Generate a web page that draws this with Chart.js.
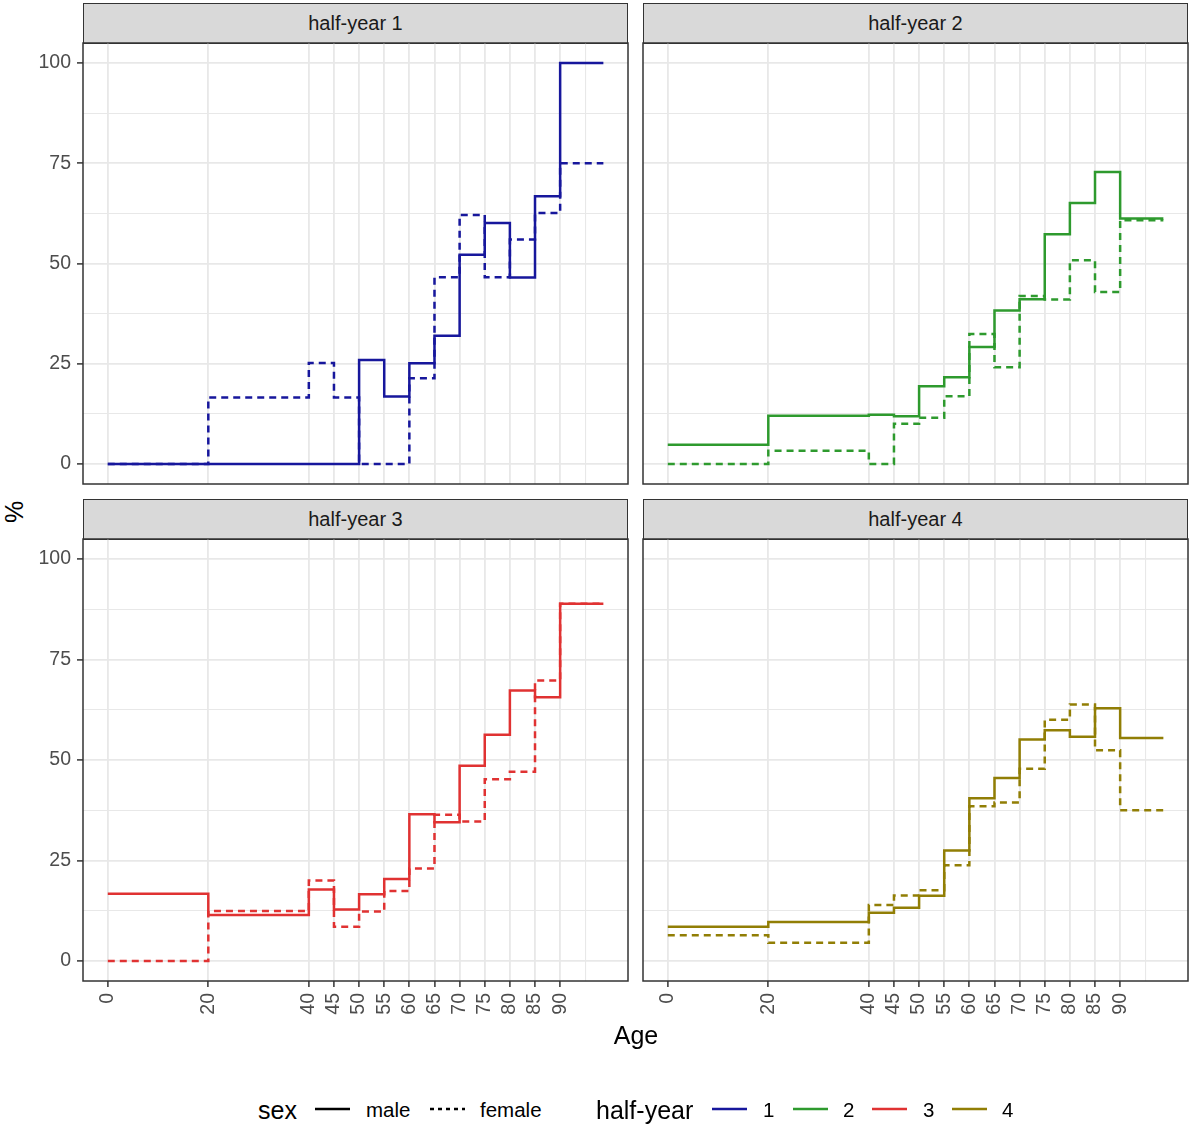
<!DOCTYPE html>
<html><head><meta charset="utf-8">
<script src="https://cdn.jsdelivr.net/npm/chart.js@4.4.1/dist/chart.umd.min.js"></script>
<style>
body{margin:0;background:#fff;width:1190px;height:1127px;position:relative;overflow:hidden;font-family:"Liberation Sans",Arial,sans-serif;}
.box{position:absolute;}
.strip{position:absolute;box-sizing:border-box;background:#D9D9D9;border:1.5px solid #333;color:#1A1A1A;font-size:20px;display:flex;align-items:center;justify-content:center;}
.t{position:absolute;white-space:nowrap;line-height:1;}
.t svg{display:block;}
</style></head><body>
<div id="root"></div>
<script>
// ---- data ----
const ageBreaks = [0,20,40,45,50,55,60,65,70,75,80,85,90];
const ageEnd = 98.6;
const xTickLabels = [0,20,40,45,50,55,60,65,70,75,80,85,90];
const xMinorGrid = [95];
const yTickLabels = [0,25,50,75,100];
const yMinorGrid = [12.5,37.5,62.5,87.5];
const halfYears = ['1','2','3','4'];
const sexes = ['male','female'];
const colors = ['#17179C','#2E9A2E','#E03232','#917E05'];

const male_hy1   = [0,0,0,0,25.9,16.8,25.1,32.0,52.2,60.1,46.5,66.8,100];
const female_hy1 = [0,16.6,25.2,16.6,0,0,21.4,46.6,62.1,46.6,56.0,62.6,75.0];
const male_hy2   = [4.8,12.0,12.3,11.9,19.4,21.6,29.2,38.3,41.1,57.3,65.1,72.8,61.2];
const female_hy2 = [0,3.3,0,10.0,11.5,16.9,32.4,24.1,41.9,41.0,50.8,42.9,60.8];
const male_hy3   = [16.7,11.4,17.8,12.8,16.6,20.4,36.5,34.5,48.6,56.3,67.3,65.6,88.9];
const female_hy3 = [0,12.4,20.0,8.5,12.3,17.4,23.0,36.4,34.7,45.2,47.1,69.8,88.9];
const male_hy4   = [8.5,9.7,12.0,13.2,16.2,27.5,40.5,45.5,55.1,57.4,55.8,62.9,55.5];
const female_hy4 = [6.4,4.5,13.9,16.3,17.6,23.8,38.5,39.4,47.8,60.0,63.8,52.4,37.5];

// ---- layout ----
const F = '"Liberation Sans", Arial, sans-serif';
const xMin = -4.93, xMax = 103.5, yMin = -5, yMax = 105;

function steps(vals){
  const pts = ageBreaks.map((a,i)=>({x:a,y:vals[i]}));
  pts.push({x:ageEnd,y:vals[vals.length-1]});
  return pts;
}

const panels = [
  {name:'half-year 1', male:male_hy1, female:female_hy1, color:colors[0], area:{l:83,t:43,r:628,b:484}, box:{x:0,y:40,w:640,h:450}, showX:false, showY:true},
  {name:'half-year 2', male:male_hy2, female:female_hy2, color:colors[1], area:{l:643,t:43,r:1188,b:484}, box:{x:635,y:40,w:555,h:450}, showX:false, showY:false},
  {name:'half-year 3', male:male_hy3, female:female_hy3, color:colors[2], area:{l:83,t:539,r:628,b:981}, box:{x:0,y:536,w:640,h:494}, showX:true, showY:true},
  {name:'half-year 4', male:male_hy4, female:female_hy4, color:colors[3], area:{l:643,t:539,r:1188,b:981}, box:{x:635,y:536,w:555,h:494}, showX:true, showY:false}
];

const borderPlugin = {
  id:'panelBorder',
  afterDraw(chart){
    const a = chart.chartArea, c = chart.ctx;
    c.save(); c.strokeStyle='#333'; c.lineWidth=1.5;
    c.strokeRect(a.left, a.top, a.right-a.left, a.bottom-a.top);
    c.restore();
  }
};

function el(cls, css, html){
  const d = document.createElement('div'); d.className = cls;
  Object.assign(d.style, css); if (html!==undefined) d.innerHTML = html;
  document.body.appendChild(d); return d;
}

panels.forEach(p=>{
  el('strip',{left:p.area.l+'px',top:(p.area.t-40)+'px',width:(p.area.r-p.area.l)+'px',height:'41px'}, p.name);
  const div = el('box',{left:p.box.x+'px',top:p.box.y+'px',width:p.box.w+'px',height:p.box.h+'px'});
  const cv = document.createElement('canvas'); div.appendChild(cv);
  const yW = p.area.l - p.box.x, padTop = p.area.t - p.box.y, padRight = p.box.x + p.box.w - p.area.r, xH = p.box.y + p.box.h - p.area.b;
  const xGrid = xTickLabels.concat(xMinorGrid), yGrid = yTickLabels.concat(yMinorGrid).sort((a,b)=>a-b);
  new Chart(cv, {
    type:'line',
    data:{datasets:[
      {label:sexes[0], data:steps(p.male), borderColor:p.color, borderWidth:2.5, stepped:'before', pointRadius:0, fill:false, borderCapStyle:'butt'},
      {label:sexes[1], data:steps(p.female), borderColor:p.color, borderWidth:2.5, borderDash:[7,5], stepped:'before', pointRadius:0, fill:false, borderCapStyle:'butt'}
    ]},
    options:{
      responsive:true, maintainAspectRatio:false, animation:false,
      layout:{padding:{top:padTop,right:padRight,left:0,bottom:0}},
      plugins:{legend:{display:false}, tooltip:{enabled:false}},
      scales:{
        x:{type:'linear', min:xMin, max:xMax,
          afterBuildTicks:s=>{ s.ticks = xGrid.map(v=>({value:v})); },
          afterFit:s=>{ s.height = xH; s.paddingLeft = 0; s.paddingRight = 0; s.paddingTop = 0; s.paddingBottom = 0; },
          border:{display:false},
          grid:{color:'#E8E8E8', lineWidth:c=>(c.tick && xMinorGrid.includes(c.tick.value))?1.1:1.8,
                drawTicks:p.showX, tickLength:6, tickWidth:1.5,
                tickColor:c=>(c.tick && xTickLabels.includes(c.tick.value))?'#333':'rgba(0,0,0,0)'},
          ticks:{display:p.showX, autoSkip:false, minRotation:90, maxRotation:90, padding:6, color:'#4D4D4D',
                 font:{size:19.5, family:F}, callback:v=>xTickLabels.includes(v)?String(v):''}
        },
        y:{type:'linear', min:yMin, max:yMax,
          afterBuildTicks:s=>{ s.ticks = yGrid.map(v=>({value:v})); },
          afterFit:s=>{ s.width = yW; s.paddingLeft = 0; s.paddingRight = 0; s.paddingTop = 0; s.paddingBottom = 0; },
          border:{display:false},
          grid:{color:'#E8E8E8', lineWidth:c=>(c.tick && yMinorGrid.includes(c.tick.value))?1.1:1.8,
                drawTicks:p.showY, tickLength:6, tickWidth:1.5,
                tickColor:c=>(c.tick && yTickLabels.includes(c.tick.value))?'#333':'rgba(0,0,0,0)'},
          ticks:{display:p.showY, autoSkip:false, padding:6, color:'#4D4D4D',
                 font:{size:19.5, family:F}, callback:v=>yTickLabels.includes(v)?String(v):''}
        }
      }
    },
    plugins:[borderPlugin]
  });
});

// axis titles
el('t',{left:'636px',top:'1035px',transform:'translate(-50%,-50%)',fontSize:'25px',color:'#000'},'Age');
el('t',{left:'14px',top:'512px',transform:'translate(-50%,-50%) rotate(-90deg)',fontSize:'25px',color:'#000'},'%');

// legend
function keyLine(x, color, dash){
  const svg = '<svg width="35" height="6"><line x1="0" y1="3" x2="35" y2="3" stroke="'+color+'" stroke-width="2.5"'+(dash?' stroke-dasharray="4,4"':'')+'/></svg>';
  el('t',{left:x+'px',top:'1106px'},svg);
}
function legText(x, txt, size){
  el('t',{left:x+'px',top:'1110px',transform:'translateY(-50%)',fontSize:size+'px',color:'#000'},txt);
}
legText(258,'sex',25);
keyLine(315,'#000',false); legText(366,sexes[0],20.5);
keyLine(430,'#000',true);  legText(480,sexes[1],20.5);
legText(596,'half-year',25);
const keyX = [712,793,872,952], labX = [763,843,923,1002];
halfYears.forEach((h,i)=>{ keyLine(keyX[i],colors[i],false); legText(labX[i],h,20.5); });
</script>
</body></html>
